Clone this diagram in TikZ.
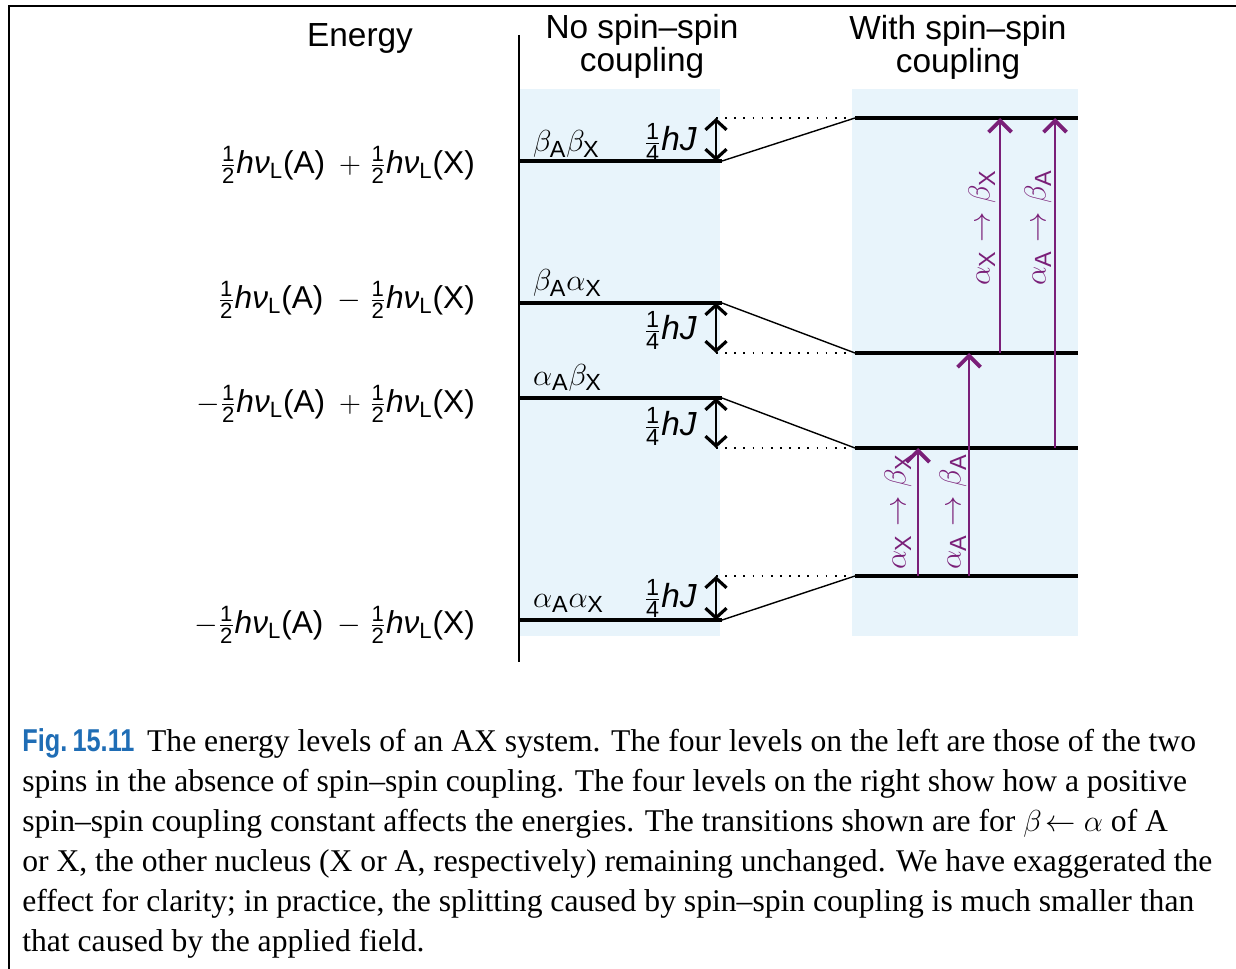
\documentclass[tikz,border=0pt]{standalone}
\usepackage{fontspec}
\setmainfont{Liberation Sans}
\newfontfamily\capfont{Liberation Serif}
\newfontfamily\figfont[FakeStretch=0.8]{Liberation Sans}
\usetikzlibrary{arrows.meta}
\definecolor{panelBlue}{HTML}{E8F4FB}
\definecolor{transPurple}{HTML}{7A1F78}
\definecolor{figBlue}{HTML}{1F6DB5}
\newcommand\half{\frac{\mathrm{1}}{\mathrm{2}}}
\newcommand\quartJ{$\frac{\mathrm{1}}{\mathrm{4}}$\textit{hJ}}
\newcommand\hnuL{\textit{hν}$_{\mathrm{L}}$}

\begin{document}
\begin{tikzpicture}[x=0.02cm,y=-0.02cm,font=\fontsize{19}{18.7}\selectfont,
 level/.style={line width=1.9pt},
 link/.style={line width=0.8pt},
 dots/.style={line width=1pt,dash pattern=on 1pt off 4.2pt,shorten >=4pt},
 gap/.style={line width=1.1pt,{Straight Barb[length=5.5pt,width=12pt,line width=1.8pt]}-{Straight Barb[length=5.5pt,width=12pt,line width=1.8pt]}},
 trans/.style={transPurple,line width=1.1pt,-{Straight Barb[length=6.5pt,width=13pt,line width=2.2pt]}},
 translabel/.style={transPurple,rotate=90,inner sep=1pt}]
\useasboundingbox (0,0) rectangle (1236,969);
\draw[line width=1.6pt] (9,975) -- (9,6) -- (1240,6);
% column heads
\node (energy) at (360,38) {Energy};
\node[align=center] (nohead) at (642,46) {No spin–spin\\coupling};
\node[align=center] (withhead) at (958,47) {With spin–spin\\coupling};
\fill[panelBlue] (519,89) rectangle (720,636);
\fill[panelBlue] (852,89) rectangle (1078,636);
\draw[line width=1.1pt] (519,35) -- (519,662);
% energies of the four product states
\foreach \y/\sgA/\sgB/\n in {165//+/bb,300//-/ba,404/-/+/ab,625/-/-/aa}{
 \node[anchor=east,font=\fontsize{18}{18}\selectfont] (E\n) at (481,\y) {$\sgA\half$\hnuL(A)\ \,$\sgB\;\half$\hnuL(X)};
}
% levels, shift by hJ/4 and the dotted guide
\foreach \yo/\yn/\n in {161/118/bb,303/353/ba,398/448/ab,620/576/aa}{
 \draw[level] (519,\yo) coordinate (\n0) -- (722,\yo) coordinate (\n1);
 \draw[level] (855,\yn) coordinate (\n2) -- (1078,\yn) coordinate (\n3);
 \draw[link] (\n1) -- (\n2);
 \coordinate (j\n) at (716,\yn);
 \coordinate (k\n) at (716,\yo);
 \draw[gap] (k\n) -- (j\n);
 \draw[dots] (j\n) -- (\n2);
}
\node[anchor=base west] (Sbb) at (527,152) {$\beta_{\mathrm{A}}\beta_{\mathrm{X}}$};
\node[anchor=base west] (Sba) at (527,291) {$\beta_{\mathrm{A}}\alpha_{\mathrm{X}}$};
\node[anchor=base west] (Sab) at (527,385) {$\alpha_{\mathrm{A}}\beta_{\mathrm{X}}$};
\node[anchor=base west] (Saa) at (527,607) {$\alpha_{\mathrm{A}}\alpha_{\mathrm{X}}$};
\foreach \y/\n in {151/bb,339/ba,435/ab,607/aa}
 \node[anchor=base east] (J\n) at (703,\y) {\quartJ};
% transitions
\foreach \x/\a/\b/\n in {918/576/448/1,969/576/353/2,1000/353/118/3,1055/448/118/4}{
 \coordinate (tr\n a) at (\x,\a);
 \coordinate (tr\n b) at (\x,\b);
 \draw[trans] (tr\n a) -- (tr\n b);
}
\node[translabel] (TX1) at (898,512) {$\alpha_{\mathrm{X}}\rightarrow\beta_{\mathrm{X}}$};
\node[translabel] (TA1) at (953,512) {$\alpha_{\mathrm{A}}\rightarrow\beta_{\mathrm{A}}$};
\node[translabel] (TX2) at (982,228) {$\alpha_{\mathrm{X}}\rightarrow\beta_{\mathrm{X}}$};
\node[translabel] (TA2) at (1038,228) {$\alpha_{\mathrm{A}}\rightarrow\beta_{\mathrm{A}}$};
% caption
\node[anchor=north west,align=left,inner sep=0pt,font=\fontsize{18}{22.8}\selectfont\capfont] (caption) at (22,728)
 {{\figfont\bfseries\color{figBlue}Fig.\,15.11}\hspace{0.4em}The energy levels of an AX system. The four levels on the left are those of the two\\
 spins in the absence of spin–spin coupling. The four levels on the right show how a positive\\
 spin–spin coupling constant affects the energies. The transitions shown are for $\beta\!\leftarrow\alpha$ of A\\
 or X, the other nucleus (X or A, respectively) remaining unchanged. We have exaggerated the\\
 effect for clarity; in practice, the splitting caused by spin–spin coupling is much smaller than\\
 that caused by the applied field.};
\end{tikzpicture}
\end{document}
